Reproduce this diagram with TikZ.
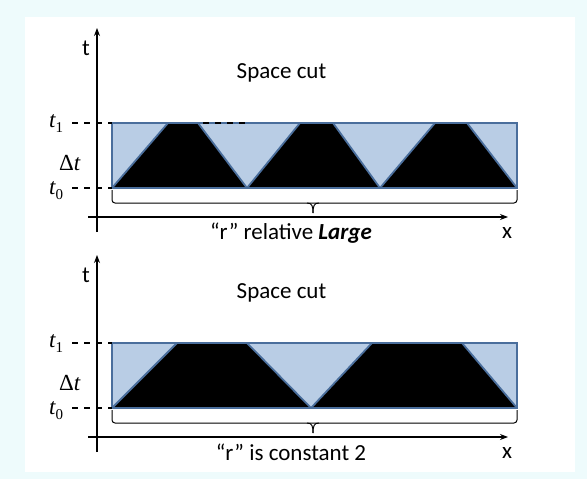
\documentclass[tikz,border=0pt]{standalone}
\usepackage{fontspec}
\setmainfont{Carlito}
\newfontfamily\serif{Liberation Serif}
\usetikzlibrary{arrows.meta}
\definecolor{bgcyan}{HTML}{EEFBFC}
\definecolor{boxfill}{HTML}{B9CDE5}
\definecolor{boxline}{HTML}{4A6E9C}
\begin{document}
\begin{tikzpicture}[x=1pt,y=-1pt,
  axisline/.style={line width=1.2pt,-{Stealth[length=8pt,width=6pt]}},
  dashline/.style={line width=1.4pt,dash pattern=on 6pt off 6pt},
  trap/.style={fill=black,draw=boxline,line width=1.8pt,line join=round},
  braceline/.style={line width=1pt,rounded corners=3pt},
  lbl/.style={font=\fontsize{23}{27}\selectfont,inner sep=0pt},
  mlbl/.style={font=\serif\fontsize{23}{27}\selectfont,inner sep=0pt}]
\path[use as bounding box,fill=bgcyan] (0,0) rectangle (587,479);
\fill[white] (25,17) rectangle (575,472);

% ---------- top panel ----------
\fill[boxfill] (112,123) rectangle (517,188);
\filldraw[trap] (112,188) -- (168,123) -- (198,123) -- (247,188) -- cycle;
\filldraw[trap] (247,188) -- (300,123) -- (333,123) -- (380,188) -- cycle;
\filldraw[trap] (380,188) -- (435,123) -- (467,123) -- (517,188) -- cycle;
\draw[boxline,line width=1.8pt] (112,123) rectangle (517,188);
\draw[dashline] (203,123) -- (247,123);

\coordinate (ta0) at (97,232);
\coordinate (ta1) at (97,28);
\coordinate (xa0) at (88,217);
\coordinate (xa1) at (508,217);
\draw[axisline] (ta0) -- (ta1);
\draw[axisline] (xa0) -- (xa1);
\draw[dashline] (72,123) -- (112,123);
\draw[dashline] (72,188) -- (112,188);

\draw[braceline] (112,190) -- (112,203) -- (517,203) -- (517,190);
\draw[line width=1pt] (307,203) .. controls (312,203) and (313,206) .. (313,213);
\draw[line width=1pt] (319,203) .. controls (314,203) and (313,206) .. (313,213);

\node[lbl,anchor=base] (tlab) at (86,55) {t};
\node[lbl,anchor=base] (sc) at (281.5,78) {Space cut};
\node[lbl,anchor=base] (rl) at (291,239) {“r” relative \textbf{\textit{Large}}};
\node[lbl,anchor=base] (xlab) at (507,238) {x};
\node[mlbl,anchor=base west] (t1) at (49,127) {\itshape t\raisebox{-5pt}{\upshape\fontsize{15}{15}\selectfont 1}};
\node[mlbl,anchor=base west] (dt) at (59,170) {Δ\itshape t};
\node[mlbl,anchor=base west] (t0) at (49,194) {\itshape t\raisebox{-5pt}{\upshape\fontsize{15}{15}\selectfont 0}};

% ---------- bottom panel ----------
\fill[boxfill] (112,343) rectangle (517,408);
\filldraw[trap] (112,408) -- (177,343) -- (247,343) -- (311,408) -- cycle;
\filldraw[trap] (311,408) -- (372,343) -- (462,343) -- (517,408) -- cycle;
\draw[boxline,line width=1.8pt] (112,343) rectangle (517,408);

\coordinate (tb0) at (97,452);
\coordinate (tb1) at (97,255);
\coordinate (xb0) at (88,437);
\coordinate (xb1) at (508,437);
\draw[axisline] (tb0) -- (tb1);
\draw[axisline] (xb0) -- (xb1);
\draw[dashline] (72,343) -- (112,343);
\draw[dashline] (72,408) -- (112,408);

\draw[braceline] (112,410) -- (112,423) -- (517,423) -- (517,410);
\draw[line width=1pt] (307,423) .. controls (312,423) and (313,426) .. (313,433);
\draw[line width=1pt] (319,423) .. controls (314,423) and (313,426) .. (313,433);

\node[lbl,anchor=base] (tlab2) at (86,282) {t};
\node[lbl,anchor=base] (sc2) at (281.5,298) {Space cut};
\node[lbl,anchor=base] (rc) at (291,460) {“r” is constant 2};
\node[lbl,anchor=base] (xlab2) at (507,458) {x};
\node[mlbl,anchor=base west] (t1b) at (49,347) {\itshape t\raisebox{-5pt}{\upshape\fontsize{15}{15}\selectfont 1}};
\node[mlbl,anchor=base west] (dtb) at (59,390) {Δ\itshape t};
\node[mlbl,anchor=base west] (t0b) at (49,414) {\itshape t\raisebox{-5pt}{\upshape\fontsize{15}{15}\selectfont 0}};
\end{tikzpicture}
\end{document}
